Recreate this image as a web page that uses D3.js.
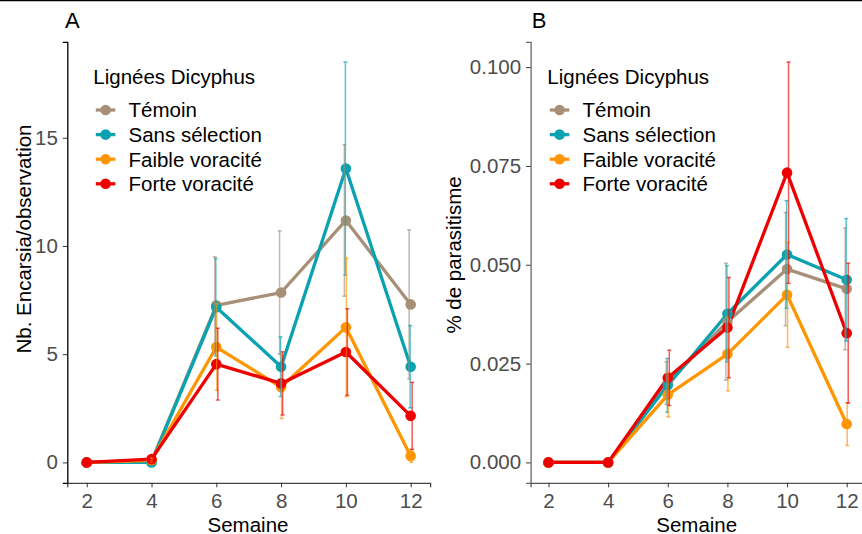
<!DOCTYPE html>
<html>
<head>
<meta charset="utf-8">
<script src="https://cdn.jsdelivr.net/npm/d3@7"></script>
<style>
  html, body { margin: 0; padding: 0; background: #fff; }
  svg { display: block; font-family: "Liberation Sans", Arial, sans-serif; }
</style>
</head>
<body>
<svg id="chart" width="862" height="534"></svg>
<script>
// Weeks of observation and the four Dicyphus lines
const weeks = [2, 4, 6, 8, 10, 12];
const lines = ["Témoin", "Sans sélection", "Faible voracité", "Forte voracité"];
const lineColors = ["#A89078", "#0AA2B0", "#FF9500", "#EE0000"];

// Panel A: Encarsia per observation (mean and error)
const temoinA = [0, 0.05, 7.26, 7.85, 11.18, 7.30];
const sansA = [0, 0, 7.17, 4.42, 13.58, 4.42];
const faibleA = [0, 0.10, 5.33, 3.48, 6.24, 0.30];
const forteA = [0, 0.15, 4.54, 3.65, 5.10, 2.15];
const temoinAErr = [0, 0, 2.24, 2.85, 3.50, 3.45];
const sansAErr = [0, 0, 2.25, 1.38, 4.92, 1.90];
const faibleAErr = [0, 0.10, 2.00, 1.45, 3.20, 0.30];
const forteAErr = [0, 0.15, 1.66, 1.46, 2.00, 1.55];

// Panel B: parasitism rate (mean and error)
const temoinB = [0, 0, 0.0201, 0.0356, 0.0489, 0.0439];
const sansB = [0, 0, 0.0195, 0.0376, 0.0526, 0.0462];
const faibleB = [0, 0, 0.0171, 0.0274, 0.0424, 0.0097];
const forteB = [0, 0, 0.0214, 0.0341, 0.0733, 0.0327];
const temoinBErr = [0, 0, 0.0054, 0.0148, 0.0143, 0.0154];
const sansBErr = [0, 0, 0.0068, 0.0122, 0.0136, 0.0155];
const faibleBErr = [0, 0, 0.0056, 0.0093, 0.0133, 0.0054];
const forteBErr = [0, 0, 0.0070, 0.0127, 0.0280, 0.0177];

const ticksA = [0, 5, 10, 15];
const ticksB = [0, 0.025, 0.05, 0.075, 0.1];
const xTicks = [2, 4, 6, 8, 10, 12];

const svg = d3.select("#chart");
const FONT = 20.5;
const TOP = 41.9, BOTTOM = 482.8;
const LINE_W = 3.3, PT_R = 5.3;

// thin frame edge along the top of the figure
svg.append("line").attr("x1", 0).attr("x2", 862).attr("y1", 0.6).attr("y2", 0.6)
  .attr("stroke", "#000").attr("stroke-width", 1.5);

function panel(cfg) {
  const g = svg.append("g");
  const x = d3.scaleLinear().domain([1.4, 12.6]).range([cfg.left, cfg.right]);
  const y = d3.scaleLinear().domain(cfg.yDomain).range([BOTTOM, TOP]);
  const dodge = d3.scalePoint().domain(lines).range([-1.5, 1.5]);

  const data = lines.map((name, i) => ({
    name, color: lineColors[i],
    pts: weeks.map((w, j) => ({ w, v: cfg.means[i][j], e: cfg.errs[i][j] }))
  }));

  // axes
  const xAxis = g.append("g").attr("transform", `translate(0,${BOTTOM})`)
    .call(d3.axisBottom(x).tickValues(xTicks).tickSize(4.5).tickPadding(6).tickFormat(d3.format("d")));
  xAxis.select(".domain").attr("stroke", cfg.xAxisColor).attr("stroke-width", 1.3);
  xAxis.selectAll(".tick line").attr("stroke", "#333");
  xAxis.selectAll("text").attr("fill", "#4D4D4D").attr("font-size", FONT)
    .attr("font-family", "Liberation Sans, Arial, sans-serif");

  const yAxis = g.append("g").attr("transform", `translate(${cfg.left},0)`)
    .call(d3.axisLeft(y).tickValues(cfg.yTicks).tickSize(4.5).tickPadding(5).tickFormat(cfg.yFormat));
  yAxis.select(".domain").attr("stroke", cfg.yAxisColor).attr("stroke-width", 1.3);
  yAxis.selectAll(".tick line").attr("stroke", "#333");
  yAxis.selectAll("text").attr("fill", "#4D4D4D").attr("font-size", FONT)
    .attr("font-family", "Liberation Sans, Arial, sans-serif");

  // lines
  const line = d3.line().x(d => x(d.w)).y(d => y(d.v));
  g.selectAll(".series").data(data).join("path")
    .attr("d", d => line(d.pts)).attr("fill", "none")
    .attr("stroke", d => d.color).attr("stroke-width", LINE_W).attr("stroke-linejoin", "round");

  // points
  data.forEach(s => {
    g.selectAll(null).data(s.pts).join("circle")
      .attr("cx", d => x(d.w)).attr("cy", d => y(d.v)).attr("r", PT_R)
      .attr("fill", s.color);
  });

  // error bars
  data.forEach(s => {
    const eb = g.append("g").attr("stroke", s.color).attr("stroke-opacity", 0.65).attr("stroke-width", 1.5);
    s.pts.filter(d => d.e > 0).forEach(d => {
      const cx = x(d.w) + dodge(s.name);
      eb.append("line").attr("x1", cx).attr("x2", cx).attr("y1", y(d.v - d.e)).attr("y2", y(d.v + d.e));
      eb.append("line").attr("x1", cx - 2).attr("x2", cx + 2).attr("y1", y(d.v - d.e)).attr("y2", y(d.v - d.e));
      eb.append("line").attr("x1", cx - 2).attr("x2", cx + 2).attr("y1", y(d.v + d.e)).attr("y2", y(d.v + d.e));
    });
  });

  // axis titles
  g.append("text").attr("x", cfg.xTitleX).attr("y", 531.5)
    .attr("text-anchor", "middle").attr("font-size", FONT).attr("fill", "#000").text("Semaine");
  g.append("text").attr("transform", `translate(${cfg.yTitleX},${cfg.yTitleY}) rotate(-90)`)
    .attr("text-anchor", "middle").attr("font-size", FONT).attr("fill", "#000").text(cfg.yTitle);

  // panel tag
  g.append("text").attr("x", cfg.tagX).attr("y", 28.3).attr("font-size", 22).attr("fill", "#000").text(cfg.tag);

  // legend
  const lg = g.append("g").attr("transform", `translate(${cfg.legendX},0)`);
  lg.append("text").attr("x", 0).attr("y", 83.5).attr("font-size", FONT).attr("fill", "#000").text("Lignées Dicyphus");
  data.forEach((s, i) => {
    const cy = 110 + i * 24.6;
    lg.append("line").attr("x1", 2.5).attr("x2", 22).attr("y1", cy).attr("y2", cy)
      .attr("stroke", s.color).attr("stroke-width", LINE_W);
    lg.append("circle").attr("cx", 12.3).attr("cy", cy).attr("r", PT_R).attr("fill", s.color);
    lg.append("text").attr("x", 35.2).attr("y", cy + 7.4).attr("font-size", FONT).attr("fill", "#000").text(s.name);
  });
}

panel({
  left: 67.3, right: 430.1,
  yDomain: [-0.943, 19.43], yTicks: ticksA, yFormat: d3.format("d"),
  means: [temoinA, sansA, faibleA, forteA], errs: [temoinAErr, sansAErr, faibleAErr, forteAErr],
  yTitle: "Nb. Encarsia/observation", yTitleX: 31, yTitleY: 239, xTitleX: 248,
  tag: "A", tagX: 65, legendX: 93.3,
  xAxisColor: "#444", yAxisColor: "#000"
});

panel({
  left: 530.6, right: 864.6,
  yDomain: [-0.00516, 0.10638], yTicks: ticksB, yFormat: d3.format(".3f"),
  means: [temoinB, sansB, faibleB, forteB], errs: [temoinBErr, sansBErr, faibleBErr, forteBErr],
  yTitle: "% de parasitisme", yTitleX: 461, yTitleY: 255, xTitleX: 696.7,
  tag: "B", tagX: 531.7, legendX: 547.3,
  xAxisColor: "#555", yAxisColor: "#666"
});
</script>
</body>
</html>
